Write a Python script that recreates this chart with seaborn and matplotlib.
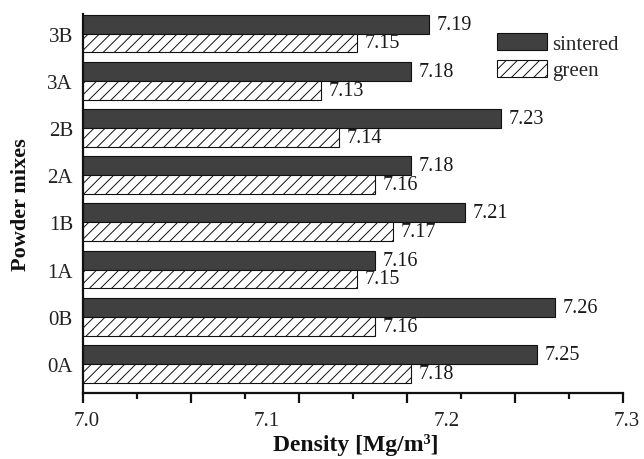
import numpy as np
import pandas as pd
import matplotlib
matplotlib.use("Agg")
import matplotlib.pyplot as plt
import seaborn as sns

# Powder mixes, listed top to bottom as they appear on the chart
mixes = ["3B", "3A", "2B", "2A", "1B", "1A", "0B", "0A"]
sintered = [7.19, 7.18, 7.23, 7.18, 7.21, 7.16, 7.26, 7.25]
green = [7.15, 7.13, 7.14, 7.16, 7.17, 7.15, 7.16, 7.18]
states = ["sintered", "green"]
x_tick_labels = [7.0, 7.1, 7.2, 7.3]

df = pd.DataFrame({
    "mix": mixes * 2,
    "density": sintered + green,
    "state": [states[0]] * len(mixes) + [states[1]] * len(mixes),
})

sns.set_theme(style="white")
plt.rcParams["font.family"] = ["Liberation Serif", "DejaVu Serif"]
plt.rcParams["hatch.linewidth"] = 0.7
plt.rcParams["hatch.color"] = "#222222"

fig = plt.figure(figsize=(6.44, 4.60), dpi=100)
ax = fig.add_axes([0.1284, 0.1435, 0.8476, 0.8235])

sns.barplot(
    data=df, y="mix", x="density", hue="state", order=mixes,
    hue_order=states, orient="h", width=0.8, gap=0,
    palette={"sintered": "#404040", "green": "white"},
    edgecolor="#111111", linewidth=0.8, ax=ax, legend=True,
)

# hatch the green-state bars
for patch in ax.containers[1]:
    patch.set_hatch("///")

# value labels at the end of each bar
for cont in ax.containers:
    ax.bar_label(cont, fmt="%.2f", padding=5.5, fontsize=14.5, color="#1a1a1a")

x0, x1 = 6.9976, 7.2976
ax.set_xlim(x0, 7.3008)
ax.set_ylim(7.615, -0.41)

# axis frame: left and bottom only
for side in ["top", "right"]:
    ax.spines[side].set_visible(False)
for side in ["left", "bottom"]:
    ax.spines[side].set_color("#111111")
    ax.spines[side].set_linewidth(1.6)
ax.spines["bottom"].set_bounds(x0, x1)

# value labels on the x axis (no tick marks of their own)
ax.set_xticks(x_tick_labels)
ax.set_xticklabels([f"{v:.1f}" for v in x_tick_labels])
ax.tick_params(axis="x", length=0, pad=13, labelsize=15, labelcolor="#222222")
ax.tick_params(axis="y", length=0, pad=7, labelsize=15, labelcolor="#222222")

# tick marks along the bottom axis, long and short alternating
sec = ax.secondary_xaxis("bottom")
sec.set_xticks(np.linspace(x0, x1, 6))
sec.set_xticks(np.linspace(x0 + 0.03, x1 - 0.03, 5), minor=True)
sec.set_xticklabels([])
sec.tick_params(which="major", direction="out", length=7, width=1.6, color="#111111")
sec.tick_params(which="minor", direction="out", length=4, width=1.6, color="#111111")
sec.spines["bottom"].set_visible(False)

ax.set_xlabel("Density [Mg/m³]", fontsize=17, fontweight="bold",
              color="#111111", labelpad=2)
ax.set_ylabel("Powder mixes", fontsize=16, fontweight="bold", color="#111111",
              labelpad=12)

handles, labels = ax.get_legend_handles_labels()
handles[1].set_hatch("///")
ax.legend(handles, labels, loc="upper left", bbox_to_anchor=(0.759, 0.95),
          frameon=False, fontsize=15, handlelength=2.4, handleheight=0.85,
          labelspacing=0.3, handletextpad=0.25, borderpad=0, borderaxespad=0)

fig.savefig("out.png", dpi=100)
